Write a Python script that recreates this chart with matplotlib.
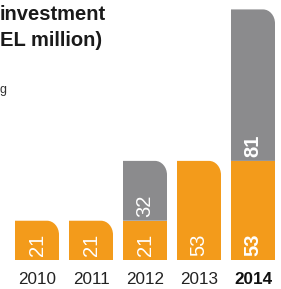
import matplotlib
matplotlib.use('Agg')
import matplotlib.pyplot as plt
from matplotlib.path import Path
from matplotlib.patches import PathPatch

plt.rcParams['font.family'] = ['Liberation Sans', 'DejaVu Sans']

# data
years = ['2010', '2011', '2012', '2013', '2014']
orange_vals = [21, 21, 21, 53, 53]
grey_vals = [0, 0, 32, 0, 81]
ORANGE = '#F39B1B'
GREY = '#8B8B8D'

W, H = 281, 289
fig = plt.figure(figsize=(W / 100., H / 100.), dpi=100)
ax = fig.add_axes([0, 0, 1, 1])
ax.set_xlim(-37 / 54., (W - 37) / 54.)
ax.set_ylim(-(H - 260) / 1.87, 260 / 1.87)
ax.axis('off')

bw = 44 / 54.
rx = 12 / 54.   # corner radius in data units
ry = 14 / 1.87
k = 0.5523


def bar(x, bottom, height, color, rounded):
    x0, x1 = x - bw / 2, x + bw / 2
    y0, y1 = bottom, bottom + height
    if rounded:
        verts = [(x0, y0), (x1, y0), (x1, y1 - ry),
                 (x1, y1 - ry + k * ry), (x1 - rx + k * rx, y1), (x1 - rx, y1),
                 (x0, y1), (x0, y0)]
        codes = [Path.MOVETO, Path.LINETO, Path.LINETO,
                 Path.CURVE4, Path.CURVE4, Path.CURVE4,
                 Path.LINETO, Path.CLOSEPOLY]
    else:
        verts = [(x0, y0), (x1, y0), (x1, y1), (x0, y1), (x0, y0)]
        codes = [Path.MOVETO, Path.LINETO, Path.LINETO, Path.LINETO, Path.CLOSEPOLY]
    ax.add_patch(PathPatch(Path(verts, codes), facecolor=color, edgecolor='none'))


pad = 2.2
for i, yr in enumerate(years):
    o = orange_vals[i]
    g = grey_vals[i]
    last = (i == len(years) - 1)
    weight = 'bold' if last else 'normal'
    bar(i, 0, o, ORANGE, g == 0)
    ax.text(i, pad, str(o), rotation=90, ha='center', va='bottom',
            color='white', fontsize=14.5, fontweight=weight)
    if g:
        bar(i, o, g, GREY, True)
        ax.text(i, o + pad, str(g), rotation=90, ha='center', va='bottom',
                color='white', fontsize=14.5, fontweight=weight)
    ax.text(i, -19 / 1.87, yr, ha='center', va='center', fontsize=12.3,
            fontweight=weight, color='#111111' if last else '#222222')

# title (cut off at the left edge in the original)
fig.text(0 / W, 1 - 20 / H, 'investment', ha='left', va='baseline',
         fontsize=14.5, fontweight='bold', color='#1a1a1a')
fig.text(0 / W, 1 - 46 / H, 'EL million)', ha='left', va='baseline',
         fontsize=14.5, fontweight='bold', color='#1a1a1a')
fig.text(6 / W, 1 - 93 / H, 'g', ha='right', va='baseline',
         fontsize=9, color='#333333')

fig.savefig('out.png', dpi=100)
